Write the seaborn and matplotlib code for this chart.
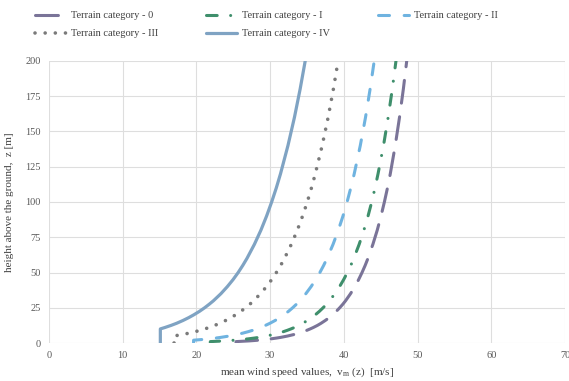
import pandas as pd
import matplotlib
matplotlib.use('Agg')
import matplotlib.pyplot as plt
import seaborn as sns

# heights above ground [m]
heights = [0, 1, 1.5, 2, 2.5, 3, 3.5, 4, 5, 6, 7, 8, 9, 10, 11, 12.5, 14, 16, 18, 20,
           22.5, 25, 27.5, 30, 35, 40, 45, 50, 55, 60, 70, 80, 90, 100, 110, 120,
           140, 160, 180, 200]

# mean wind speed [m/s], one value per height (None = no point)
v_cat0 = [25.38, 25.38, 27.15, 28.41, 29.38, 30.18, 30.85, 31.44, 32.41, 33.21, 33.88,
          34.47, 34.98, 35.44, 35.86, 36.42, 36.91, 37.49, 38.01, 38.47, 38.98, 39.44,
          39.86, 40.24, 40.91, 41.50, 42.01, 42.47, 42.89, 43.27, 43.94, 44.53, 45.04,
          45.50, 45.92, 46.30, 46.97, 47.55, 48.07, 48.53]
v_cat1 = [21.89, 21.89, 23.82, 25.18, 26.25, 27.11, 27.85, 28.48, 29.54, 30.41, 31.14,
          31.77, 32.33, 32.83, 33.29, 33.90, 34.43, 35.07, 35.63, 36.13, 36.69, 37.19,
          37.64, 38.06, 38.79, 39.42, 39.98, 40.48, 40.94, 41.35, 42.08, 42.72, 43.28,
          43.78, 44.23, 44.64, 45.38, 46.01, 46.57, 47.07]
v_cat2 = [19.62, None, None, 19.62, 20.81, 21.78, 22.60, 23.31, 24.50, 25.47, 26.29,
          27.00, 27.63, 28.19, 28.69, 29.37, 29.98, 30.69, 31.31, 31.87, 32.50, 33.06,
          33.57, 34.03, 34.85, 35.56, 36.19, 36.75, 37.26, 37.72, 38.54, 39.25, 39.88,
          40.44, 40.94, 41.41, 42.23, 42.94, 43.56, 44.12]
v_cat3 = [16.97, None, None, None, None, None, None, None, 16.97, 18.07, 19.00,
          19.80, 20.51, 21.15, 21.72, 22.49, 23.18, 23.98, 24.69, 25.33, 26.04, 26.67,
          27.25, 27.77, 28.70, 29.51, 30.22, 30.85, 31.43, 31.95, 32.88, 33.69, 34.40,
          35.04, 35.61, 36.13, 37.06, 37.87, 38.58, 39.22]
v_cat4 = [15.11, None, None, None, None, None, None, None, None, None, None,
          None, None, 15.11, 15.73, 16.57, 17.32, 18.19, 18.96, 19.65, 20.43, 21.12,
          21.74, 22.32, 23.33, 24.20, 24.98, 25.67, 26.29, 26.86, 27.87, 28.75, 29.52,
          30.21, 30.84, 31.41, 32.42, 33.30, 34.07, 34.76]

categories = ['Terrain category - 0', 'Terrain category - I', 'Terrain category - II',
              'Terrain category - III', 'Terrain category - IV']
series = [v_cat0, v_cat1, v_cat2, v_cat3, v_cat4]

colors = ['#7a7498', '#3f8f6c', '#6fb3e0', '#7a7a7a', '#7fa3c3']
styles = [
    dict(linestyle=(0, (7.5, 4.5)), dash_capstyle='round', lw=2.2),
    dict(linestyle=(0, (3.5, 4.4, 0.01, 4.4)), dash_capstyle='round', lw=2.2),
    dict(linestyle=(0, (3.6, 4.8)), dash_capstyle='round', lw=2.2),
    dict(linestyle=(0, (0.01, 2.8)), dash_capstyle='round', lw=2.6),
    dict(linestyle='-', lw=2.3),
]

rows = []
for name, vals in zip(categories, series):
    for z, v in zip(heights, vals):
        if v is not None:
            rows.append({'category': name, 'z': z, 'v': v})
df = pd.DataFrame(rows)

sns.set_style('white')
plt.rcParams['font.family'] = ['Liberation Serif', 'DejaVu Serif']
plt.rcParams['mathtext.fontset'] = 'custom'
plt.rcParams['mathtext.rm'] = 'Liberation Serif'
plt.rcParams['mathtext.it'] = 'Liberation Serif:italic'

fig = plt.figure(figsize=(5.69, 3.81), dpi=100)
ax = fig.add_axes([0.086, 0.0997, 0.907, 0.7403])

for name, col, st in zip(categories, colors, styles):
    sub = df[df['category'] == name]
    sns.lineplot(data=sub, x='v', y='z', sort=False, estimator=None, color=col,
                 label=name, ax=ax, **st)

ax.set_xlim(0, 70)
ax.set_ylim(0, 200)
ax.set_xticks(range(0, 71, 10))
ax.set_yticks(range(0, 201, 25))
ax.grid(True, color='#dedede', lw=0.8)
for s in ax.spines.values():
    s.set_visible(False)
ax.tick_params(length=0, labelsize=7.5, labelcolor='#595959', pad=6)
ax.set_xlabel('mean wind speed values,  v$_{\\mathrm{m}}$ (z)  [m/s]', fontsize=8,
              color='#404040', labelpad=4)
ax.set_ylabel('height above the ground,  z [m]', fontsize=8, color='#404040', labelpad=8)

handles, labels = ax.get_legend_handles_labels()
ax.get_legend().remove()
order = [0, 3, 1, 4, 2]
fig.legend([handles[i] for i in order], [labels[i] for i in order],
           loc='upper left', bbox_to_anchor=(0.052, 0.985), ncol=3, frameon=False,
           fontsize=7.5, handlelength=3.0, handletextpad=0.45, columnspacing=4.6,
           labelspacing=0.85, borderpad=0, labelcolor='#404040')

fig.savefig('out.png', dpi=100)
